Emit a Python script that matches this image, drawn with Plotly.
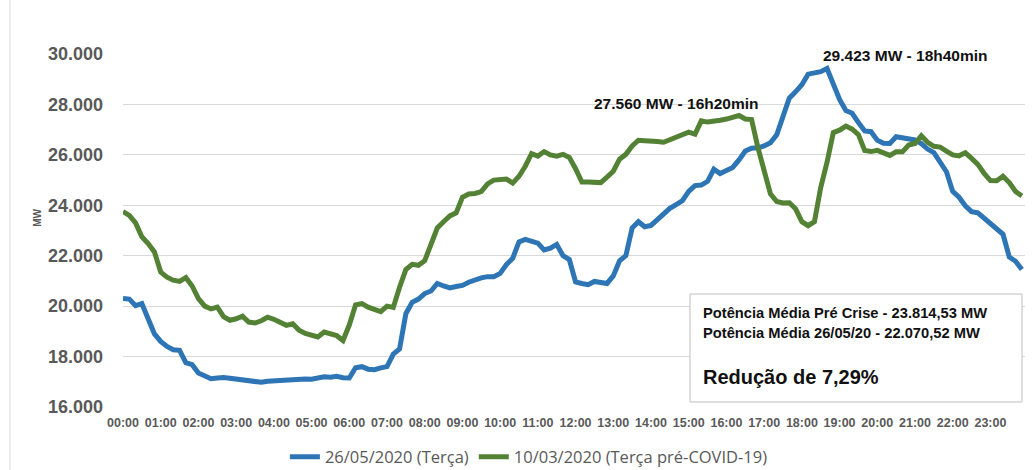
import plotly.graph_objects as go

# Time axis: 10-minute steps over the day (minutes since 00:00)
minutes = [i * 10 for i in range(144)]

# 26/05/2020 (Terça) - MW
blue_vals = [
    20300, 20280, 20020, 20100, 19500, 18900, 18600, 18400, 18270, 18250, 17760, 17680,
    17350, 17250, 17120, 17150, 17170, 17140, 17110, 17090, 17070, 17010, 16980, 17020,
    17040, 17060, 17080, 17100, 17090, 17110, 17100, 17150, 17200, 17180, 17220, 17160,
    17150, 17560, 17600, 17500, 17480, 17550, 17600, 18100, 18300, 19700, 20150, 20280,
    20500, 20600, 20900, 20800, 20720, 20780, 20820, 20950, 21050, 21120, 21170, 21170,
    21300, 21650, 21900, 22550, 22650, 22600, 22500, 22230, 22300, 22450, 22000, 21850,
    20960, 20900, 20850, 20980, 20920, 20900, 21200, 21800, 22000, 23100, 23350, 23150,
    23200, 23420, 23700, 23880, 24030, 24180, 24550, 24780, 24800, 24950, 25430, 25260,
    25380, 25500, 25800, 26150, 26260, 26280, 26350, 26480, 26800, 27600, 28250, 28500,
    28780, 29200, 29260, 29300, 29423, 28750, 28200, 27760, 27650, 27280, 26950, 26920,
    26580, 26460, 26450, 26720, 26680, 26640, 26590, 26450, 26230, 26090, 25750, 25330,
    24550, 24320, 23980, 23750, 23700, 23480, 23230, 23070, 22850, 21950, 21780, 21450,
]

# 10/03/2020 (Terça pré-COVID-19) - MW
green_vals = [
    23750, 23600, 23300, 22750, 22480, 22150, 21350, 21150, 21030, 20980, 21130, 20800,
    20300, 20000, 19890, 19960, 19580, 19440, 19500, 19600, 19370, 19330, 19420, 19560,
    19480, 19350, 19240, 19300, 19050, 18920, 18850, 18780, 18970, 18900, 18830, 18640,
    19250, 20050, 20100, 19960, 19850, 19780, 20000, 19950, 20750, 21450, 21660, 21620,
    21800, 22500, 23100, 23350, 23580, 23700, 24320, 24450, 24470, 24540, 24850, 25000,
    25020, 25040, 24880, 25150, 25550, 26050, 25950, 26130, 26000, 25950, 26020, 25900,
    25450, 24920, 24920, 24920, 24900, 25120, 25350, 25830, 26020, 26350, 26580, 26560,
    26560, 26530, 26500, 26600, 26710, 26760, 26900, 26820, 27350, 27300, 27320, 27370,
    27420, 27470, 27560, 27420, 27400, 26300, 25400, 24450, 24150, 24090, 24100, 23860,
    23350, 23190, 23350, 24700, 25700, 26880, 26980, 27140, 27020, 26800, 26170, 26130,
    26180, 26060, 25980, 26120, 26120, 26390, 26450, 26760, 26500, 26340, 26310, 26150,
    26000, 25960, 26080, 25860, 25620, 25260, 24980, 24970, 25150, 24900, 24550, 24370,
]

series_names = ["26/05/2020 (Terça)", "10/03/2020 (Terça pré-COVID-19)"]

x_tick_vals = [h * 60 for h in range(24)]
x_tick_text = [f"{h:02d}:00" for h in range(24)]

y_tick_vals = [16000, 18000, 20000, 22000, 24000, 26000, 28000, 30000]
y_tick_text = ["16.000", "18.000", "20.000", "22.000", "24.000", "26.000", "28.000", "30.000"]

peak_labels = ["27.560 MW - 16h20min", "29.423 MW - 18h40min"]
box_lines = [
    "Potência Média Pré Crise - 23.814,53 MW",
    "Potência Média 26/05/20 - 22.070,52 MW",
]
box_result = "Redução de 7,29%"

BLUE = "#2E75B6"
GREEN = "#548235"
GRAY_TXT = "#595959"
BOLD_FONT = "Liberation Sans, Arial, sans-serif"

fig = go.Figure()
fig.add_trace(go.Scatter(x=minutes, y=blue_vals, mode="lines", name=series_names[0],
                         line=dict(color=BLUE, width=5)))
fig.add_trace(go.Scatter(x=minutes, y=green_vals, mode="lines", name=series_names[1],
                         line=dict(color=GREEN, width=5)))

fig.update_layout(
    width=1032, height=470,
    margin=dict(l=123, r=7, t=54, b=63, autoexpand=False),
    paper_bgcolor="white", plot_bgcolor="white",
    showlegend=True,
    legend=dict(orientation="h", x=0.45, xanchor="center", y=-0.142, yanchor="middle",
                font=dict(family="Open Sans, sans-serif", size=16.5, color=GRAY_TXT),
                itemwidth=30, bgcolor="rgba(0,0,0,0)"),
    xaxis=dict(range=[0, 1435], tickmode="array", tickvals=x_tick_vals, ticktext=x_tick_text,
               tickangle=0, showgrid=False, zeroline=False, showline=False, ticks="",
               ticklabelstandoff=6,
               tickfont=dict(family=BOLD_FONT, size=12.5, color=GRAY_TXT, weight="bold")),
    yaxis=dict(range=[16000, 30000], tickmode="array", tickvals=y_tick_vals, ticktext=y_tick_text,
               showgrid=True, gridcolor="#D9D9D9", gridwidth=1, zeroline=False, showline=False,
               ticks="", ticklabelstandoff=19,
               tickfont=dict(family=BOLD_FONT, size=18, color=GRAY_TXT, weight="bold")),
)

# Outer chart border (left side visible)
fig.add_shape(type="line", xref="paper", yref="paper", x0=-0.1253, x1=-0.1253, y0=-0.2, y1=1.16,
              line=dict(color="#D9D9D9", width=1))

# Y-axis title
fig.add_annotation(text="MW", xref="paper", yref="paper", x=-0.103, y=0.535, showarrow=False,
                   textangle=-90, font=dict(family=BOLD_FONT, size=10, color=GRAY_TXT, weight="bold"))

# Peak labels
fig.add_annotation(text=peak_labels[0], x=880, y=28050, xref="x", yref="y", showarrow=False,
                   font=dict(family=BOLD_FONT, size=15.5, color="#111111", weight="bold"))
fig.add_annotation(text=peak_labels[1], x=1245, y=29960, xref="x", yref="y", showarrow=False,
                   font=dict(family=BOLD_FONT, size=15.5, color="#111111", weight="bold"))

# Info box
fig.add_shape(type="rect", xref="paper", yref="paper", x0=0.6286, x1=0.9967, y0=0.0142, y1=0.3201,
              line=dict(color="#BFBFBF", width=1), fillcolor="white", layer="above")
fig.add_annotation(text=box_lines[0], xref="paper", yref="paper", x=0.6408, y=0.2663,
                   xanchor="left", yanchor="middle", showarrow=False,
                   font=dict(family=BOLD_FONT, size=14.7, color="#111111", weight="bold"))
fig.add_annotation(text=box_lines[1], xref="paper", yref="paper", x=0.6408, y=0.2096,
                   xanchor="left", yanchor="middle", showarrow=False,
                   font=dict(family=BOLD_FONT, size=14.7, color="#111111", weight="bold"))
fig.add_annotation(text=box_result, xref="paper", yref="paper", x=0.6408, y=0.085,
                   xanchor="left", yanchor="middle", showarrow=False,
                   font=dict(family=BOLD_FONT, size=20, color="#111111", weight="bold"))

fig.write_html("out.html",
               config={"displayModeBar": False},
               post_script="document.body.style.margin='0';document.body.style.overflow='hidden';")
